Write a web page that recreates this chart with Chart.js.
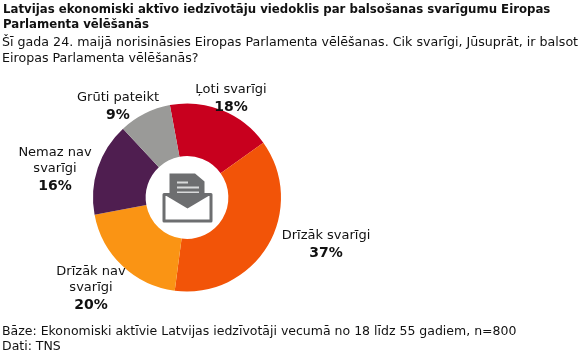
<!DOCTYPE html>
<html>
<head>
<meta charset="utf-8">
<script src="https://cdn.jsdelivr.net/npm/chart.js@4"></script>
<style>
  html, body { margin: 0; padding: 0; background: #fff; }
  #wrap { position: relative; width: 581px; height: 352px; overflow: hidden; font-family: "DejaVu Sans", sans-serif; color: #111; }
  #wrap canvas { position: absolute; left: 0; top: 0; }
  .txt { position: absolute; white-space: nowrap; }
</style>
</head>
<body>
<div id="wrap">
  <canvas id="chart" width="581" height="352"></canvas>
  <div class="txt" style="top:2px;left:3px;font-weight:bold;font-size:11.75px;line-height:15px">Latvijas ekonomiski aktīvo iedzīvotāju viedoklis par balsošanas svarīgumu Eiropas<br>Parlamenta vēlēšanās</div>
  <div class="txt" style="top:34px;left:2px;font-size:12.65px;line-height:16px">Šī gada 24. maijā norisināsies Eiropas Parlamenta vēlēšanas. Cik svarīgi, Jūsuprāt, ir balsot<br>Eiropas Parlamenta vēlēšanās?</div>
  <div class="txt" style="top:323px;left:2px;font-size:12.5px;line-height:15px">Bāze: Ekonomiski aktīvie Latvijas iedzīvotāji vecumā no 18 līdz 55 gadiem, n=800<br>Dati: TNS</div>
</div>
<script>
// --- DATOS ---
const categories = [['Ļoti svarīgi'], ['Drīzāk svarīgi'], ['Drīzāk nav', 'svarīgi'], ['Nemaz nav', 'svarīgi'], ['Grūti pateikt']];
const values = [18, 37, 20, 16, 9];
const colors = ['#C8001E', '#F25408', '#FA9414', '#4F1E50', '#9A9A98'];

// centro de cada etiqueta (primera línea)
const labelPos = [[231, 90], [326, 236], [91, 272], [55, 153], [118, 98]];

const iconColor = '#6D6E70';

// --- ETIQUETAS ---
const labelsPlugin = {
  id: 'sliceLabels',
  afterDraw(chart) {
    const ctx = chart.ctx;
    ctx.save();
    ctx.textAlign = 'center';
    ctx.textBaseline = 'middle';
    categories.forEach((lines, i) => {
      const [x, y] = labelPos[i];
      ctx.fillStyle = '#111';
      ctx.font = '13px "DejaVu Sans"';
      lines.forEach((line, j) => ctx.fillText(line, x, y + j * 16));
      ctx.font = 'bold 14px "DejaVu Sans"';
      ctx.fillText(values[i] + '%', x, y + lines.length * 16 + 1);
    });
    ctx.restore();
  }
};

// --- ICONO DEL CENTRO ---
const iconPlugin = {
  id: 'centerIcon',
  afterDraw(chart) {
    const arc = chart.getDatasetMeta(0).data[0];
    const ctx = chart.ctx;
    ctx.save();
    ctx.translate(arc.x, arc.y);
    ctx.fillStyle = iconColor;
    // hoja
    ctx.beginPath();
    ctx.moveTo(-17.5, -24);
    ctx.lineTo(8, -24);
    ctx.lineTo(17.5, -16);
    ctx.lineTo(17.5, 0);
    ctx.lineTo(-17.5, 0);
    ctx.closePath();
    ctx.fill();
    ctx.fillStyle = '#D8D9DA';
    ctx.fillRect(-10, -16, 11, 2);
    ctx.fillRect(-10, -11, 22, 2);
    ctx.fillRect(-10, -6, 22, 2);
    // sobre
    ctx.strokeStyle = iconColor;
    ctx.lineWidth = 3;
    ctx.lineJoin = 'round';
    ctx.strokeRect(-23, -3, 47, 26.5);
    ctx.fillStyle = iconColor;
    ctx.beginPath();
    ctx.moveTo(-23, -3);
    ctx.lineTo(24, -3);
    ctx.lineTo(0.5, 11);
    ctx.closePath();
    ctx.fill();
    ctx.restore();
  }
};

new Chart(document.getElementById('chart').getContext('2d'), {
  type: 'doughnut',
  data: {
    labels: categories.map(c => c.join(' ')),
    datasets: [{
      data: values,
      backgroundColor: colors,
      borderWidth: 0
    }]
  },
  options: {
    responsive: false,
    animation: false,
    cutout: '44%',
    rotation: -10.5,
    layout: { padding: { left: 93, right: 300, top: 103, bottom: 60 } },
    plugins: {
      legend: { display: false },
      title: { display: false },
      tooltip: { enabled: false }
    }
  },
  plugins: [labelsPlugin, iconPlugin]
});
</script>
</body>
</html>
